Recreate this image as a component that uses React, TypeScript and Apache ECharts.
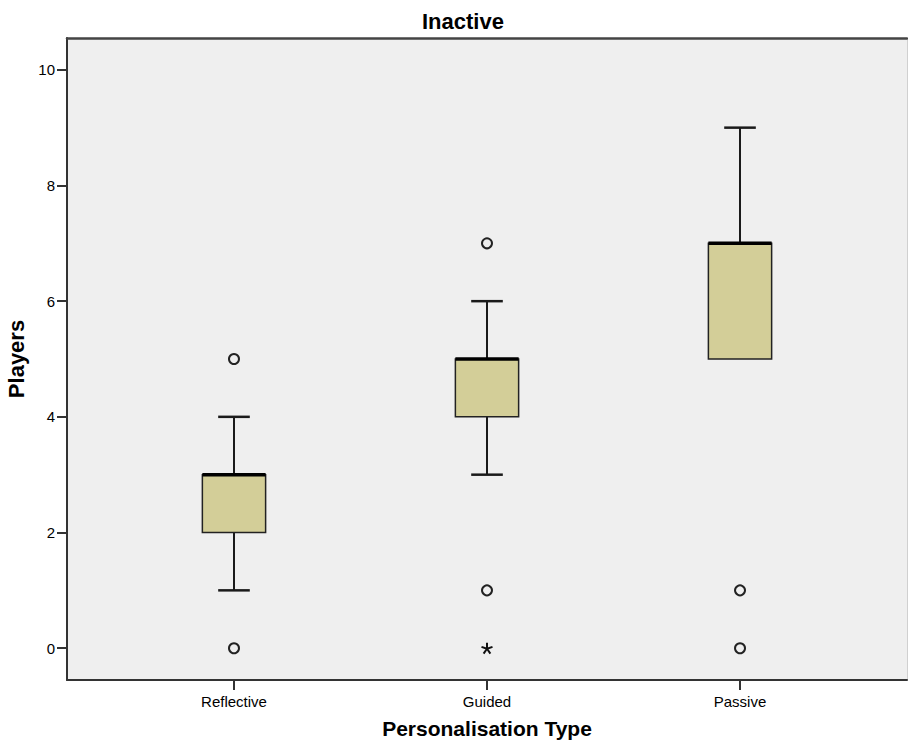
import React, { useEffect, useRef } from "react";
import * as echarts from "echarts";

const categories = ["Reflective", "Guided", "Passive"];
const lowerWhisker = [1, 3, 5];
const q1 = [2, 4, 5];
const median = [3, 5, 7];
const q3 = [3, 5, 7];
const upperWhisker = [4, 6, 9];
const outliers: [number, number][] = [
  [0, 5],
  [0, 0],
  [1, 7],
  [1, 1],
  [2, 1],
  [2, 0],
];
const extremes: [number, number][] = [[1, 0]];
const yTicks = [0, 2, 4, 6, 8, 10];
const xTicks = [0, 1, 2];

const FONT = "'Liberation Sans', Arial, sans-serif";
const asterisk =
  "path://M5,5L5,0M5,5L9.755,3.455M5,5L7.939,9.045M5,5L2.061,9.045M5,5L0.245,3.455";

export default function App() {
  const ref = useRef<HTMLDivElement>(null);
  useEffect(() => {
    document.body.style.margin = "0";
    const chart = echarts.init(ref.current!, null, { renderer: "svg" });
    const boxData = categories.map((_, i) => [
      i,
      lowerWhisker[i],
      q1[i],
      median[i],
      q3[i],
      upperWhisker[i],
    ]);
    const boxW = 0.25;
    const capW = 0.125;
    chart.setOption({
      animation: false,
      title: {
        text: "Inactive",
        left: 417,
        top: 5,
        textStyle: { fontFamily: FONT, fontSize: 22, fontWeight: "bold", color: "#000" },
      },
      grid: {
        left: 67,
        right: 1,
        top: 38,
        bottom: 69,
        outerBoundsMode: "none",
        containLabel: false,
        show: true,
        backgroundColor: "#efefef",
        borderWidth: 0,
      },
      xAxis: [
        {
          type: "value",
          min: -0.66,
          max: 2.66,
          position: "bottom",
          splitLine: { show: false },
          axisLine: { show: true, onZero: false, lineStyle: { color: "#333", width: 2 } },
          axisTick: { show: true, length: 10, customValues: xTicks, lineStyle: { color: "#333", width: 2 } },
          axisLabel: {
            customValues: xTicks,
            formatter: (v: number) => categories[Math.round(v)] ?? "",
            margin: 14,
            fontFamily: FONT,
            fontSize: 15,
            color: "#000",
          },
          name: "Personalisation Type",
          nameLocation: "middle",
          nameGap: 38,
          nameTextStyle: { fontFamily: FONT, fontSize: 21, fontWeight: "bold", color: "#000" },
        },
        {
          type: "value",
          min: -0.66,
          max: 2.66,
          position: "top",
          splitLine: { show: false },
          axisLine: { show: true, onZero: false, lineStyle: { color: "#444", width: 2.5 } },
          axisTick: { show: false },
          axisLabel: { show: false },
        },
      ],
      yAxis: [
        {
          type: "value",
          min: -0.55,
          max: 10.55,
          splitLine: { show: false },
          axisLine: { show: true, onZero: false, lineStyle: { color: "#333", width: 2 } },
          axisTick: { show: true, length: 10, customValues: yTicks, lineStyle: { color: "#333", width: 2 } },
          axisLabel: {
            customValues: yTicks,
            margin: 12,
            fontFamily: FONT,
            fontSize: 15,
            color: "#000",
          },
          name: "Players",
          nameLocation: "middle",
          nameGap: 40,
          nameTextStyle: { fontFamily: FONT, fontSize: 22, fontWeight: "bold", color: "#000" },
        },
        {
          type: "value",
          min: -0.55,
          max: 10.55,
          position: "right",
          splitLine: { show: false },
          axisLine: { show: true, onZero: false, lineStyle: { color: "#d0d0d0", width: 1 } },
          axisTick: { show: false },
          axisLabel: { show: false },
        },
      ],
      series: [
        {
          type: "custom",
          xAxisIndex: 0,
          yAxisIndex: 0,
          data: boxData,
          renderItem: (params: any, api: any) => {
            const x = api.value(0);
            const lo = api.coord([x, api.value(1)]);
            const b1 = api.coord([x, api.value(2)]);
            const md = api.coord([x, api.value(3)]);
            const b3 = api.coord([x, api.value(4)]);
            const hi = api.coord([x, api.value(5)]);
            const w = api.size([boxW, 0])[0];
            const cw = api.size([capW, 0])[0];
            const cx = lo[0];
            const lineStyle = { stroke: "#1a1a1a", lineWidth: 2 };
            const children: any[] = [];
            if (api.value(1) < api.value(2)) {
              children.push({ type: "line", shape: { x1: cx, y1: lo[1], x2: cx, y2: b1[1] }, style: lineStyle });
              children.push({ type: "line", shape: { x1: cx - cw / 2, y1: lo[1], x2: cx + cw / 2, y2: lo[1] }, style: { stroke: "#1a1a1a", lineWidth: 2.5 } });
            }
            if (api.value(5) > api.value(4)) {
              children.push({ type: "line", shape: { x1: cx, y1: hi[1], x2: cx, y2: b3[1] }, style: lineStyle });
              children.push({ type: "line", shape: { x1: cx - cw / 2, y1: hi[1], x2: cx + cw / 2, y2: hi[1] }, style: { stroke: "#1a1a1a", lineWidth: 2.5 } });
            }
            children.push({
              type: "rect",
              shape: { x: cx - w / 2, y: b3[1], width: w, height: b1[1] - b3[1] },
              style: { fill: "#d3ce98", stroke: "#222", lineWidth: 1.5 },
            });
            children.push({
              type: "line",
              shape: { x1: cx - w / 2, y1: md[1], x2: cx + w / 2, y2: md[1] },
              style: { stroke: "#000", lineWidth: 3.5 },
            });
            return { type: "group", children };
          },
        },
        {
          type: "scatter",
          xAxisIndex: 0,
          yAxisIndex: 0,
          data: outliers,
          symbol: "circle",
          symbolSize: 10,
          itemStyle: { color: "rgba(0,0,0,0)", borderColor: "#222", borderWidth: 2, opacity: 1 },
        },
        {
          type: "scatter",
          xAxisIndex: 0,
          yAxisIndex: 0,
          data: extremes,
          symbol: asterisk,
          symbolSize: 11,
          itemStyle: { color: "rgba(0,0,0,0)", borderColor: "#111", borderWidth: 2, opacity: 1 },
        },
      ],
    });
    return () => chart.dispose();
  }, []);
  return <div ref={ref} style={{ width: 908, height: 749 }} />;
}
